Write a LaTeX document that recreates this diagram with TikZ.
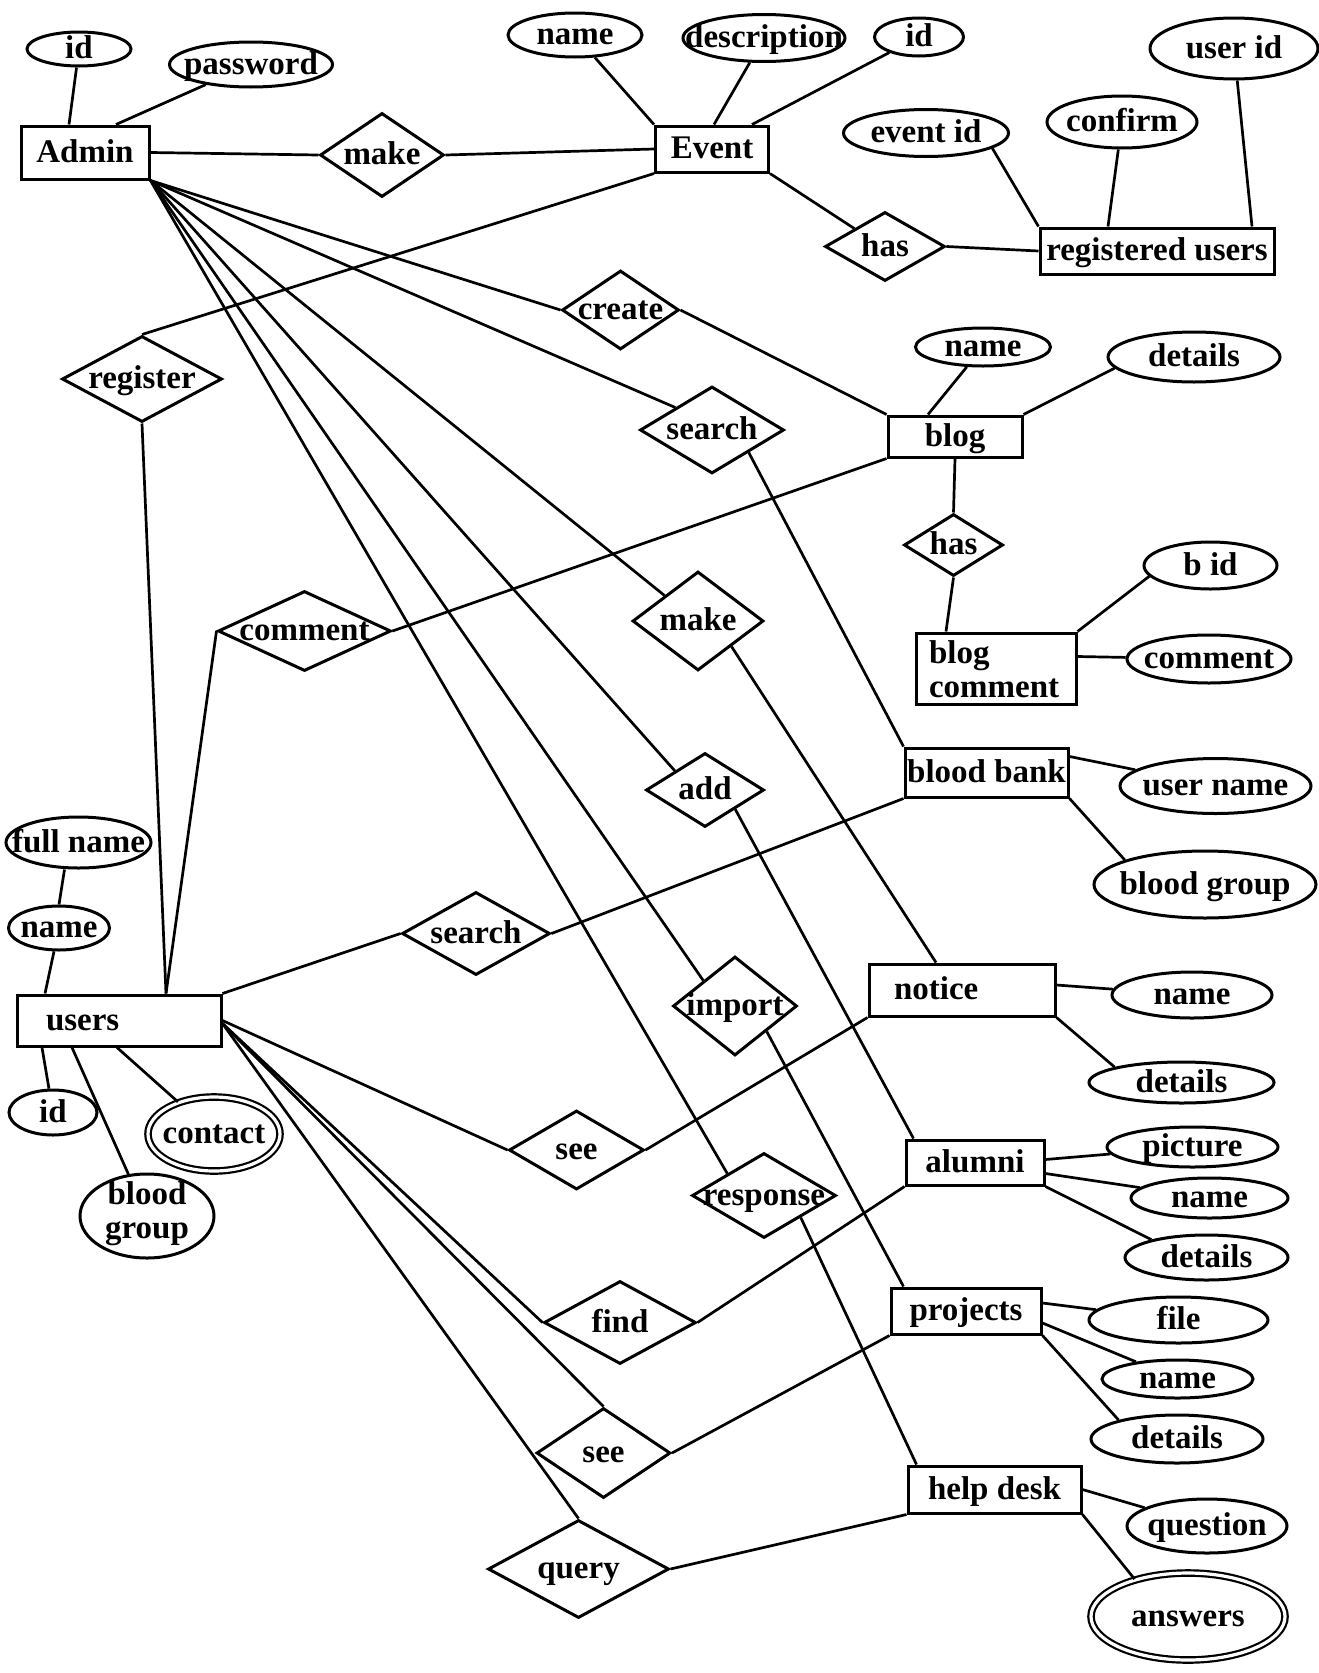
\documentclass[tikz,border=0pt]{standalone}
\usepackage{fontspec}
\setmainfont{Liberation Serif}
\usetikzlibrary{shapes.geometric}
\newcommand\T[1]{\makebox[0pt]{\smash{\raisebox{-0.3em}{#1}}}}
\newcommand\TL[2]{\makebox[0pt][l]{\hspace*{#1}\smash{\raisebox{-0.3em}{#2}}}}
\newcommand\TT[3]{\makebox[0pt]{\smash{\raisebox{#1}{\begin{tabular}[b]{@{}#2@{}}#3\end{tabular}}}}}
\tikzset{
  lbl/.style={inner sep=0pt, line width=3pt, font=\bfseries\fontsize{33}{34}\selectfont},
  ent/.style={lbl, draw, rectangle},
  attr/.style={lbl, draw, ellipse},
  mattr/.style={lbl, draw, ellipse, double, double distance=3.2pt, line width=2.2pt},
  rel/.style={lbl, draw, diamond},
  sz/.style 2 args={minimum width=#1pt, minimum height=#2pt},
  conn/.style={line width=2.7pt}
}
\begin{document}
\begin{tikzpicture}[x=1pt,y=-1pt]
\fill[white] (0,0) rectangle (1319,1673);
\useasboundingbox (0,0) rectangle (1319,1673);
% entities
\node[ent, sz={128}{53}] (admin) at (85,152.5) {\T{Admin}};
\node[ent, sz={113}{46}] (event) at (712,149) {\T{Event}};
\node[ent, sz={234}{46}] (reg) at (1157,251) {\T{registered users}};
\node[ent, sz={134}{41}] (blog) at (955,436.5) {\T{blog}};
\node[ent, sz={160}{71}] (bc) at (996,668.5) {\makebox[0pt][l]{\hspace*{-67pt}\smash{\raisebox{-29pt}{\begin{tabular}[b]{@{}l@{}}blog\\comment\end{tabular}}}}};
\node[ent, sz={163}{49}] (bb) at (986.5,772.5) {\T{blood bank}};
\node[ent, sz={204}{51}] (users) at (119,1020.5) {\TL{-73pt}{users}};
\node[ent, sz={186}{52}] (notice) at (962,990) {\TL{-68pt}{notice}};
\node[ent, sz={138}{45}] (alumni) at (975,1162.5) {\T{alumni}};
\node[ent, sz={150}{46}] (projects) at (966,1311) {\T{projects}};
\node[ent, sz={173}{47}] (helpdesk) at (994.5,1489.5) {\T{help desk}};
% attributes
\node[attr, sz={104}{34}] (aid) at (79,49) {\T{id}};
\node[attr, sz={163}{45}] (pw) at (251,64.5) {\T{password}};
\node[attr, sz={134}{44}] (ename) at (575,35) {\T{name}};
\node[attr, sz={162}{47}] (edesc) at (764,38) {\T{description}};
\node[attr, sz={89}{38}] (eid) at (919,37) {\T{id}};
\node[attr, sz={165}{47}] (evid) at (926,133) {\T{event id}};
\node[attr, sz={150}{52}] (conf) at (1122,122) {\T{confirm}};
\node[attr, sz={168}{61}] (uid) at (1234,48.5) {\T{user id}};
\node[attr, sz={135}{38}] (bname) at (983,347) {\T{name}};
\node[attr, sz={172}{50}] (bdet) at (1194,357) {\T{details}};
\node[attr, sz={133}{47}] (bid) at (1210.5,565.5) {\T{b id}};
\node[attr, sz={164}{48}] (bcom) at (1209,659) {\T{comment}};
\node[attr, sz={191}{55}] (buname) at (1215.5,786) {\T{user name}};
\node[attr, sz={222}{67}] (bgrp) at (1205,884.5) {\T{blood group}};
\node[attr, sz={160}{46}] (nname) at (1192,995) {\T{name}};
\node[attr, sz={185}{41}] (ndet) at (1181.5,1082.5) {\T{details}};
\node[attr, sz={171}{40}] (apic) at (1192.5,1147) {\T{picture}};
\node[attr, sz={157}{40}] (aname) at (1209.5,1198) {\T{name}};
\node[attr, sz={163}{45}] (adet) at (1206.5,1257.5) {\T{details}};
\node[attr, sz={179}{46}] (pfile) at (1178.5,1320) {\T{file}};
\node[attr, sz={151}{38}] (pname) at (1177.5,1379) {\T{name}};
\node[attr, sz={172}{48}] (pdet) at (1177,1439) {\T{details}};
\node[attr, sz={160}{54}] (hq) at (1207,1526) {\T{question}};
\node[mattr, sz={194}{87}] (hans) at (1188,1616.5) {\T{answers}};
\node[attr, sz={145}{51}] (ufname) at (78.5,842.5) {\T{full name}};
\node[attr, sz={101}{44}] (uname) at (59,928) {\T{name}};
\node[attr, sz={88}{45}] (uidu) at (53,1112.5) {\T{id}};
\node[attr, sz={134}{84}] (ubg) at (147,1216) {\TT{-22pt}{c}{blood\\group}};
\node[mattr, sz={132}{74}] (ucont) at (214,1134) {\T{contact}};
% relationships
\node[rel, sz={124}{84}] (make1) at (382,155) {\T{make}};
\node[rel, sz={120}{69}] (has1) at (885,246.5) {\T{has}};
\node[rel, sz={117}{79}] (create) at (620.5,310) {\T{create}};
\node[rel, sz={144}{87}] (search1) at (712,430) {\T{search}};
\node[rel, sz={160}{86}] (register) at (142,379) {\T{register}};
\node[rel, sz={99}{62}] (has2) at (953.5,545) {\T{has}};
\node[rel, sz={173}{80}] (comment) at (304.5,631) {\T{comment}};
\node[rel, sz={131}{99}] (make2) at (698,621) {\T{make}};
\node[rel, sz={118}{74}] (add) at (705,790) {\T{add}};
\node[rel, sz={148}{83}] (search2) at (476,933.5) {\T{search}};
\node[rel, sz={124}{99}] (import) at (735,1006) {\T{import}};
\node[rel, sz={135}{79}] (see1) at (576.5,1150) {\T{see}};
\node[rel, sz={144}{85}] (response) at (764,1195.5) {\T{response}};
\node[rel, sz={152}{83}] (find) at (620,1322.5) {\T{find}};
\node[rel, sz={134}{90}] (see2) at (603.5,1453) {\T{see}};
\node[rel, sz={181}{98}] (query) at (578.5,1569) {\T{query}};
% connectors
\draw[conn] (aid) -- ([xshift=-16pt]admin.north);
\draw[conn] (pw) -- ([xshift=31pt]admin.north);
\draw[conn] (admin.east) -- (make1.west);
\draw[conn] (make1.east) -- (event.west);
\draw[conn] (ename) -- (event.north west);
\draw[conn] (edesc) -- ([xshift=2pt]event.north);
\draw[conn] (eid) -- ([xshift=40pt]event.north);
\draw[conn] (event.south east) -- (has1.north west);
\draw[conn] (has1.east) -- (reg.west);
\draw[conn] (evid.-13) -- (reg.north west);
\draw[conn] (conf) -- ([xshift=-49pt]reg.north);
\draw[conn] (uid) -- ([xshift=95pt]reg.north);
\draw[conn] (admin.south east) -- (create.west);
\draw[conn] (admin.south east) -- (search1.north west);
\draw[conn] (admin.south east) -- (make2.north west);
\draw[conn] (admin.south east) -- (add.north west);
\draw[conn] (admin.south east) -- (import.north west);
\draw[conn] (admin.south east) -- (response.north west);
\draw[conn] (create.east) -- (blog.north west);
\draw[conn] (bname) -- ([xshift=-27pt]blog.north);
\draw[conn] (bdet.188) -- (blog.north east);
\draw[conn] (register.north) -- (event.south west);
\draw[conn] (register.south) -- ([xshift=47pt]users.north);
\draw[conn] (comment.west) -- ([xshift=47pt]users.north);
\draw[conn] (comment.east) -- (blog.south west);
\draw[conn] (blog.south) -- (has2.north);
\draw[conn] (has2.south) -- ([xshift=-50pt]bc.north);
\draw[conn] (bc.north east) -- (bid.190);
\draw[conn] ([yshift=12pt]bc.east) -- (bcom);
\draw[conn] (search1.south east) -- (bb.north west);
\draw[conn] ([yshift=-10pt]bb.north east) -- (buname);
\draw[conn] (bb.south east) -- (bgrp.163);
\draw[conn] (users.north east) -- (search2.west);
\draw[conn] (search2.east) -- (bb.south west);
\draw[conn] (make2.south east) -- ([xshift=-26pt]notice.north);
\draw[conn] ([yshift=5pt]notice.east) -- (nname);
\draw[conn] (notice.south east) -- (ndet.167);
\draw[conn] (users.east) -- (see1.west);
\draw[conn] (see1.east) -- (notice.south west);
\draw[conn] (add.south east) -- ([xshift=9pt]alumni.north west);
\draw[conn] ([yshift=3pt]alumni.east) -- (apic);
\draw[conn] ([yshift=-11pt]alumni.east) -- (aname);
\draw[conn] (alumni.south east) -- (adet.162);
\draw[conn] (find.east) -- (alumni.south west);
\draw[conn] (import.south east) -- ([xshift=14pt]projects.north west);
\draw[conn] ([yshift=8pt]projects.east) -- (pfile);
\draw[conn] ([yshift=-12pt]projects.east) -- (pname);
\draw[conn] (projects.south east) -- (pdet.162);
\draw[conn] (see2.east) -- (projects.south west);
\draw[conn] (response.south east) -- ([xshift=10pt]helpdesk.north west);
\draw[conn] (helpdesk.east) -- (hq);
\draw[conn] (helpdesk.south east) -- (hans.145);
\draw[conn] (query.east) -- (helpdesk.south west);
\draw[conn] ([yshift=-3pt]users.east) -- (find.west);
\draw[conn] ([yshift=-3pt]users.east) -- (see2.north);
\draw[conn] ([yshift=-3pt]users.east) -- (query.north);
\draw[conn] ([xshift=-14pt]ufname.south) -- (uname.north);
\draw[conn] (uname) -- ([xshift=-74pt]users.north);
\draw[conn] ([xshift=-77pt]users.south) -- (uidu);
\draw[conn] ([xshift=-47pt]users.south) -- (ubg);
\draw[conn] ([xshift=-2pt]users.south) -- (ucont);
\end{tikzpicture}
\end{document}
